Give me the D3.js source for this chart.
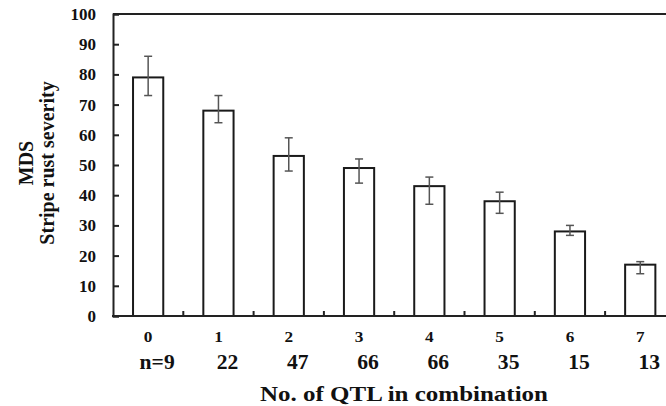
<!DOCTYPE html>
<html>
<head>
<meta charset="utf-8">
<script src="https://cdn.jsdelivr.net/npm/d3@7"></script>
<style>
  body { margin: 0; background: #fff; }
  svg text { font-family: "Liberation Serif", "Times New Roman", serif; font-weight: bold; fill: #111; }
</style>
</head>
<body>
<svg id="chart" width="666" height="406"></svg>
<script>
// data
const qtlCounts = ["0", "1", "2", "3", "4", "5", "6", "7"];
const nLabels = ["n=9", "22", "47", "66", "66", "35", "15", "13"];
const mds = [79, 68, 53, 49, 43, 38, 28, 17];
const errHigh = [86, 73, 59, 52, 46, 41, 30, 18];
const errLow = [73, 64, 48, 44, 37, 34, 26.7, 14];
const yTicks = [0, 10, 20, 30, 40, 50, 60, 70, 80, 90, 100];

const svg = d3.select("#chart");
const plotLeft = 113, plotTop = 14, plotBottom = 316;
const step = 70.3;
const plotRight = plotLeft + step * qtlCounts.length;

const x = d3.scaleBand()
  .domain(qtlCounts)
  .range([plotLeft, plotRight])
  .paddingInner(0.57)
  .paddingOuter(0.285);

const y = d3.scaleLinear().domain([0, 100]).range([plotBottom, plotTop]);

// top border
svg.append("line")
  .attr("x1", plotLeft).attr("x2", plotRight)
  .attr("y1", y(100)).attr("y2", y(100))
  .attr("stroke", "#222").attr("stroke-width", 2);

// bars
svg.selectAll("rect.bar")
  .data(mds)
  .enter()
  .append("rect")
  .attr("class", "bar")
  .attr("x", (d, i) => x(qtlCounts[i]))
  .attr("y", d => y(d))
  .attr("width", x.bandwidth())
  .attr("height", d => y(0) - y(d))
  .attr("fill", "#fff")
  .attr("stroke", "#1a1a1a")
  .attr("stroke-width", 2);

// error bars
const eb = svg.selectAll("g.err")
  .data(mds)
  .enter()
  .append("g")
  .attr("class", "err")
  .attr("stroke", "#555")
  .attr("stroke-width", 1.5);

const cx = i => x(qtlCounts[i]) + x.bandwidth() / 2;
eb.append("line")
  .attr("x1", (d, i) => cx(i)).attr("x2", (d, i) => cx(i))
  .attr("y1", (d, i) => y(errHigh[i])).attr("y2", (d, i) => y(errLow[i]));
eb.append("line")
  .attr("x1", (d, i) => cx(i) - 4).attr("x2", (d, i) => cx(i) + 4)
  .attr("y1", (d, i) => y(errHigh[i])).attr("y2", (d, i) => y(errHigh[i]));
eb.append("line")
  .attr("x1", (d, i) => cx(i) - 4).attr("x2", (d, i) => cx(i) + 4)
  .attr("y1", (d, i) => y(errLow[i])).attr("y2", (d, i) => y(errLow[i]));

// y axis
const yAxis = svg.append("g")
  .attr("transform", "translate(" + plotLeft + ",0)")
  .call(d3.axisLeft(y).tickValues(yTicks).tickSize(-6).tickPadding(17));
yAxis.select(".domain").attr("stroke", "#222").attr("stroke-width", 2);
yAxis.selectAll(".tick line").attr("stroke", "#222").attr("stroke-width", 2);
yAxis.selectAll(".tick text")
  .style("font-family", "'Liberation Serif', serif")
  .style("font-weight", "bold")
  .style("font-size", "17px")
  .attr("fill", "#111");

// x axis line
svg.append("line")
  .attr("x1", plotLeft - 1).attr("x2", plotRight)
  .attr("y1", y(0)).attr("y2", y(0))
  .attr("stroke", "#222").attr("stroke-width", 2);

// x ticks at band boundaries, pointing inward
svg.selectAll("line.xtick")
  .data(qtlCounts.slice(1))
  .enter()
  .append("line")
  .attr("class", "xtick")
  .attr("x1", d => x(d) - x.step() * x.paddingInner() / 2)
  .attr("x2", d => x(d) - x.step() * x.paddingInner() / 2)
  .attr("y1", y(0)).attr("y2", y(0) - 5)
  .attr("stroke", "#222").attr("stroke-width", 2);

// category labels (slightly stretched like the source)
svg.selectAll("text.cat")
  .data(qtlCounts)
  .enter()
  .append("text")
  .attr("class", "cat")
  .attr("transform", d => "translate(" + (x(d) + x.bandwidth() / 2) + ",342) scale(1.15,1)")
  .attr("text-anchor", "middle")
  .style("font-size", "15px")
  .text(d => d);

// n labels
svg.selectAll("text.n")
  .data(nLabels)
  .enter()
  .append("text")
  .attr("class", "n")
  .attr("transform", (d, i) => "translate(" + (cx(i) + 9) + ",369) scale(1.08,1)")
  .attr("text-anchor", "middle")
  .style("font-size", "20px")
  .text(d => d);

// x title
svg.append("text")
  .attr("x", 260)
  .attr("y", 401)
  .attr("textLength", 288)
  .attr("lengthAdjust", "spacingAndGlyphs")
  .style("font-size", "21px")
  .text("No. of QTL in combination");

// y title, two lines
svg.append("text")
  .attr("transform", "translate(33,163) rotate(-90)")
  .attr("text-anchor", "middle")
  .style("font-size", "20px")
  .text("MDS");
svg.append("text")
  .attr("transform", "translate(54,163) rotate(-90)")
  .attr("text-anchor", "middle")
  .style("font-size", "20px")
  .text("Stripe rust severity");
</script>
</body>
</html>
